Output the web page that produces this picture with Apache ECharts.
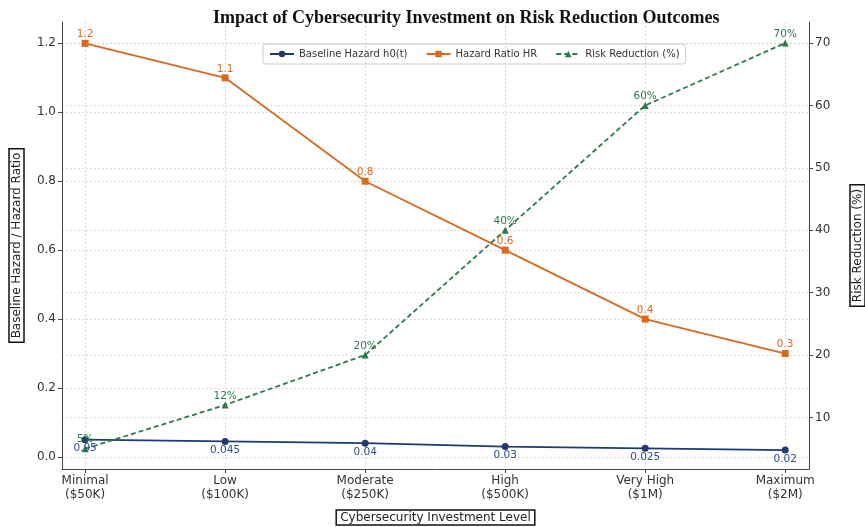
<!DOCTYPE html>
<html>
<head>
<meta charset="utf-8">
<script src="https://cdn.jsdelivr.net/npm/echarts@6/dist/echarts.min.js"></script>
<style>
  html, body { margin: 0; padding: 0; background: #fff; }
  #chart { width: 865px; height: 527px; }
</style>
</head>
<body>
<div id="chart"></div>
<script>
// Investment levels (x categories)
const categories = ['Minimal\n($50K)', 'Low\n($100K)', 'Moderate\n($250K)', 'High\n($500K)', 'Very High\n($1M)', 'Maximum\n($2M)'];
// Series values
const baselineHazard = [0.05, 0.045, 0.04, 0.03, 0.025, 0.02];
const hazardRatio = [1.2, 1.1, 0.8, 0.6, 0.4, 0.3];
const riskReduction = [5, 12, 20, 40, 60, 70];
// Tick values
const leftTicks = [0, 0.2, 0.4, 0.6, 0.8, 1.0, 1.2];
const rightTicks = [10, 20, 30, 40, 50, 60, 70];
const xTicks = [0, 1, 2, 3, 4, 5];

const NAVY = '#1f3b6f';
const ORANGE = '#d8691f';
const GREEN = '#2a7a4a';
const FONT = 'DejaVu Sans';

const toPoints = arr => arr.map((v, i) => [i, v]);

const gridLine = { show: true, lineStyle: { color: '#d0d0d0', type: [2, 2], width: 0.8 } };
const axisLineStyle = { show: true, onZero: false, lineStyle: { color: '#444', width: 1 } };
const boxedName = (extra) => Object.assign({
  fontFamily: FONT, fontSize: 12, color: '#222',
  borderColor: '#111', borderWidth: 1.5, padding: [2, 4, 1, 4]
}, extra || {});

const chart = echarts.init(document.getElementById('chart'), null, { renderer: 'canvas' });
chart.setOption({
  backgroundColor: '#fff',
  animation: false,
  title: {
    text: 'Impact of Cybersecurity Investment on Risk Reduction Outcomes',
    left: 208, top: 4,
    textStyle: { fontFamily: 'Liberation Serif', fontWeight: 'bold', fontSize: 18, color: '#111' }
  },
  legend: {
    top: 44, left: 263,
    itemWidth: 24, itemHeight: 8, itemGap: 18,
    padding: [5, 6],
    borderColor: '#ccc', borderWidth: 1, borderRadius: 3,
    textStyle: { fontFamily: FONT, fontSize: 10, color: '#333' },
    data: ['Baseline Hazard h0(t)', 'Hazard Ratio HR', 'Risk Reduction (%)']
  },
  grid: { left: 62, right: 56, top: 22, bottom: 58, outerBoundsMode: 'none', containLabel: false },
  xAxis: {
    type: 'value', min: -0.165, max: 5.17,
    name: 'Cybersecurity Investment Level', nameLocation: 'middle', nameGap: 41,
    nameTextStyle: boxedName(),
    axisLine: axisLineStyle,
    axisTick: { show: true, length: 4, customValues: xTicks, lineStyle: { color: '#444' } },
    axisLabel: {
      customValues: xTicks, fontFamily: FONT, fontSize: 12, color: '#333', lineHeight: 14, margin: 5,
      formatter: v => categories[Math.round(v)]
    },
    splitLine: gridLine
  },
  yAxis: [
    {
      type: 'value', min: -0.035, max: 1.262, position: 'left',
      name: 'Baseline Hazard / Hazard Ratio', nameLocation: 'middle', nameGap: 38, nameRotate: 90,
      nameTextStyle: boxedName(),
      axisLine: axisLineStyle,
      axisTick: { show: true, length: 4, customValues: leftTicks, lineStyle: { color: '#444' } },
      axisLabel: { customValues: leftTicks, fontFamily: FONT, fontSize: 12, color: '#333', margin: 6,
        formatter: v => v.toFixed(1) },
      splitLine: gridLine
    },
    {
      type: 'value', min: 1.74, max: 73.37, position: 'right',
      name: 'Risk Reduction (%)', nameLocation: 'middle', nameGap: 41, nameRotate: 90,
      nameTextStyle: boxedName(),
      axisLine: axisLineStyle,
      axisTick: { show: true, length: 4, customValues: rightTicks, lineStyle: { color: '#444' } },
      axisLabel: { customValues: rightTicks, fontFamily: FONT, fontSize: 12, color: '#333', margin: 6 },
      splitLine: gridLine
    }
  ],
  series: [
    {
      name: 'Baseline Hazard h0(t)', type: 'line', yAxisIndex: 0,
      data: toPoints(baselineHazard),
      symbol: 'circle', symbolSize: 7,
      lineStyle: { color: NAVY, width: 1.8 },
      itemStyle: { color: NAVY },
      label: { show: true, position: 'bottom', distance: 0, color: '#2f4f86', fontFamily: FONT, fontSize: 10.5,
        formatter: p => String(p.value[1]) },
      z: 3
    },
    {
      name: 'Hazard Ratio HR', type: 'line', yAxisIndex: 0,
      data: toPoints(hazardRatio),
      symbol: 'rect', symbolSize: 7,
      lineStyle: { color: ORANGE, width: 1.8 },
      itemStyle: { color: ORANGE },
      label: { show: true, position: 'top', distance: 0, color: ORANGE, fontFamily: FONT, fontSize: 10.5,
        formatter: p => String(p.value[1]) },
      z: 3
    },
    {
      name: 'Risk Reduction (%)', type: 'line', yAxisIndex: 1,
      data: toPoints(riskReduction),
      symbol: 'triangle', symbolSize: 7,
      lineStyle: { color: GREEN, width: 1.8, type: [5, 3] },
      itemStyle: { color: GREEN },
      label: { show: true, position: 'top', distance: 0, color: GREEN, fontFamily: FONT, fontSize: 10.5,
        formatter: p => p.value[1] + '%' },
      z: 3
    }
  ]
});
</script>
</body>
</html>
